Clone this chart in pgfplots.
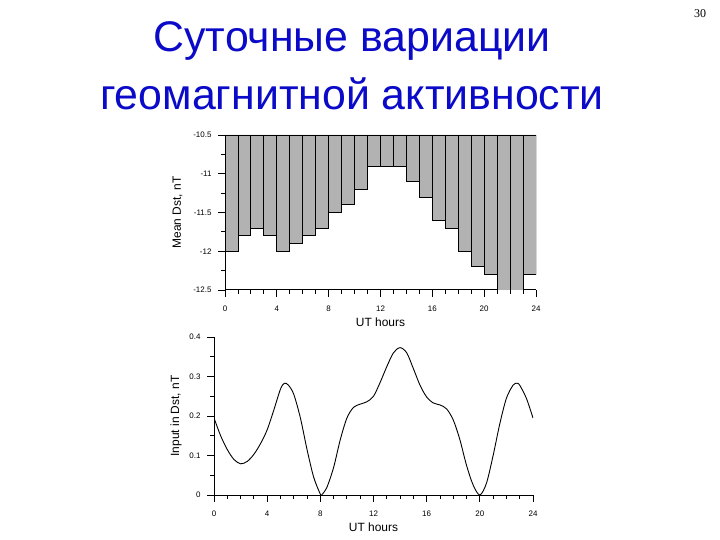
\documentclass[border=0pt]{standalone}
\usepackage{fontspec}
\setmainfont{Liberation Sans}
\newfontfamily\pagefont{Liberation Serif}
\usepackage{pgfplots}
\pgfplotsset{compat=1.18}

\definecolor{titleblue}{RGB}{10,10,200}
\definecolor{bargray}{RGB}{178,178,178}

\pgfplotsset{
  dstaxis/.style={
    scale only axis,
    axis x line=bottom,
    axis y line=left,
    axis line style={-, line width=1bp},
    tick align=outside,
    major tick length=7bp,
    minor tick length=4bp,
    every tick/.style={black, line width=0.9bp},
    xmin=0, xmax=24,
    xtick={0,4,8,12,16,20,24},
    minor x tick num=3,
    minor y tick num=1,
    tick label style={font=\fontsize{8}{9}\selectfont},
    xticklabel style={yshift=-5bp},
    yticklabel style={xshift=-3bp},
    /pgf/number format/assume math mode=true,
    label style={font=\fontsize{12}{14}\selectfont},
    xlabel={UT hours},
  }
}

\begin{document}
\begin{tikzpicture}
\path[use as bounding box] (0,0) rectangle (720bp,540bp);

\node[anchor=base, text=titleblue, font=\fontsize{43}{52}\selectfont] at (352bp,488bp) {Суточные вариации};
\node[anchor=base, text=titleblue, font=\fontsize{43}{52}\selectfont] at (352bp,430bp) {геомагнитной активности};
\node[font=\pagefont\fontsize{12}{14}\selectfont] at (700bp,526bp) {30};

% top: mean Dst for each UT hour
\begin{axis}[
  dstaxis,
  at={(225bp,250bp)}, anchor=south west,
  width=311bp, height=155bp,
  ymin=-12.5, ymax=-10.5,
  ytick={-12.5,-12,-11.5,-11,-10.5},
  ylabel={Mean Dst, nT},
  ylabel shift=4bp,
]
\addplot[ybar interval, fill=bargray, draw=black, line width=0.9bp] coordinates {
  (0,-12.0) (1,-11.8) (2,-11.7) (3,-11.8) (4,-12.0) (5,-11.9)
  (6,-11.8) (7,-11.7) (8,-11.5) (9,-11.4) (10,-11.2) (11,-10.9)
  (12,-10.9) (13,-10.9) (14,-11.1) (15,-11.3) (16,-11.6) (17,-11.7)
  (18,-12.0) (19,-12.2) (20,-12.3) (21,-12.5) (22,-12.5) (23,-12.3)
  (24,-12.3)
};
\end{axis}

% bottom: input in Dst
\begin{axis}[
  dstaxis,
  at={(214bp,45bp)}, anchor=south west,
  width=319bp, height=158bp,
  ymin=0, ymax=0.4,
  ytick={0,0.1,0.2,0.3,0.4},
  ylabel={Input in Dst, nT},
  ylabel shift=1bp,
]
\addplot[smooth, black, line width=0.9bp] coordinates {
  (0,0.195) (0.5,0.150) (1,0.115) (1.5,0.090) (2,0.079) (2.5,0.085)
  (3,0.103) (3.5,0.130) (4,0.165) (4.5,0.215) (5,0.268) (5.3,0.283)
  (5.6,0.278) (6,0.255) (6.5,0.195) (7,0.115) (7.5,0.045) (8,0.002)
  (8.1,0.0) (8.5,0.020) (9,0.070) (9.5,0.140) (10,0.195) (10.5,0.222)
  (11,0.230) (11.5,0.236) (12,0.250) (12.5,0.285) (13,0.325) (13.5,0.360)
  (14,0.373) (14.5,0.360) (15,0.320) (15.5,0.278) (16,0.248) (16.5,0.233)
  (17,0.228) (17.5,0.218) (18,0.190) (18.5,0.140) (19,0.075) (19.5,0.025)
  (20,0.0) (20.5,0.030) (21,0.100) (21.5,0.180) (22,0.245) (22.5,0.278)
  (22.8,0.283) (23,0.278) (23.5,0.245) (24,0.195)
};
\end{axis}
\end{tikzpicture}
\end{document}
